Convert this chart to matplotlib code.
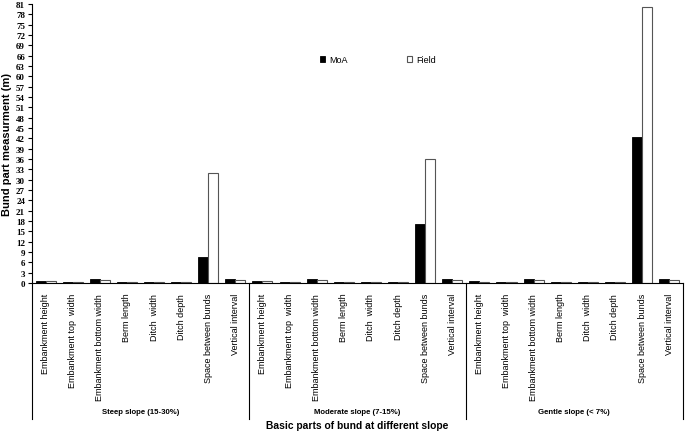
import matplotlib
matplotlib.use("Agg")
import matplotlib.pyplot as plt
import numpy as np

# bund parts (same for every slope class)
parts = ["Embankment height", "Embankment top  width", "Embankment bottom width",
         "Berm length", "Ditch  width", "Ditch depth", "Space between bunds",
         "Vertical interval"]
slopes = ["Steep slope (15-30%)", "Moderate slope (7-15%)", "Gentle slope (< 7%)"]

# values (m), one list per slope class
moa_steep = [0.5, 0.3, 1.2, 0.2, 0.4, 0.4, 7.5, 1.2]
field_steep = [0.5, 0.3, 0.9, 0.3, 0.4, 0.4, 32, 1.0]
moa_moderate = [0.5, 0.3, 1.2, 0.2, 0.4, 0.4, 17, 1.1]
field_moderate = [0.5, 0.3, 0.9, 0.3, 0.4, 0.4, 36, 1.0]
moa_gentle = [0.5, 0.3, 1.2, 0.2, 0.4, 0.4, 42.5, 1.1]
field_gentle = [0.4, 0.3, 0.9, 0.3, 0.4, 0.4, 80, 1.0]

moa = moa_steep + moa_moderate + moa_gentle
field = field_steep + field_moderate + field_gentle
labels = parts * 3

fig = plt.figure(figsize=(6.85, 4.35), dpi=100)
ax = fig.add_axes([0.0467, 0.347, 0.950, 0.6415])

x = np.arange(len(labels))
w = 0.37
ax.bar(x - w / 2, moa, w, color="black", edgecolor="black", linewidth=0.6, label="MoA")
ax.bar(x + w / 2, field, w, color="white", edgecolor="#555555", linewidth=0.8, label="Field")

ax.set_xlim(-0.5, len(labels) - 0.5)
ax.set_ylim(0, 81)
ax.set_yticks(np.arange(0, 82, 3))
ax.set_yticklabels([str(v) for v in range(0, 82, 3)], family="Liberation Serif",
                   fontweight="bold", fontsize=6.5)
ax.tick_params(axis="y", length=3, width=0.8, pad=2)

ax.set_xticks(x)
ax.set_xticklabels(labels, rotation=90, family="Liberation Sans", fontsize=6.5,
                   va="top")
ax.tick_params(axis="x", length=0, pad=7)

for s in ["top", "right"]:
    ax.spines[s].set_visible(False)
ax.spines["left"].set_linewidth(0.8)
ax.spines["bottom"].set_linewidth(0.8)

# group separators below the axis
for b in [-0.5, 7.5, 15.5, 23.5]:
    ax.axvline(b, ymin=-0.487, ymax=0, color="black", linewidth=0.8, clip_on=False)

for i, name in enumerate(slopes):
    ax.text(i * 8 + 3.5, -0.462, name, transform=ax.get_xaxis_transform(),
            ha="center", va="center", fontsize=5.6, fontweight="bold",
            family="Liberation Sans")

ax.text(11.5, -0.508, "Basic parts of bund at different slope",
        transform=ax.get_xaxis_transform(), ha="center", va="center",
        fontsize=7.4, fontweight="bold", family="Liberation Sans")

ax.set_ylabel("Bund part measurment (m)", fontsize=8, fontweight="bold",
              family="Liberation Sans", labelpad=3)

leg = ax.legend(loc="center left", bbox_to_anchor=(0.43, 0.80), ncol=2,
                frameon=False, columnspacing=6.6, handlelength=0.6,
                handleheight=0.6, handletextpad=0.4,
                prop={"family": "Liberation Sans", "size": 6.5})

fig.savefig("out.png", dpi=100)
